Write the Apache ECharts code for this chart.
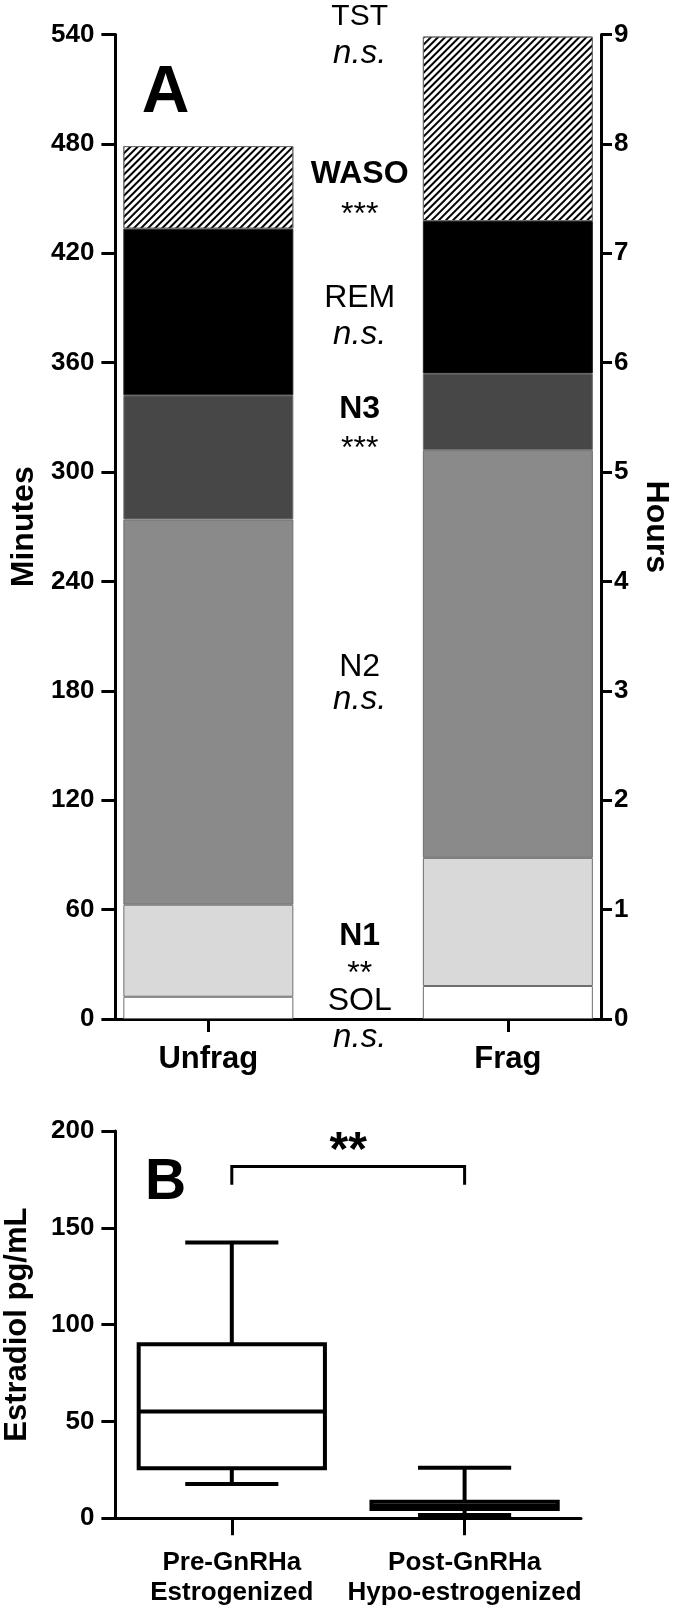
<!DOCTYPE html>
<html><head><meta charset="utf-8">
<script src="https://cdn.jsdelivr.net/npm/echarts@6/dist/echarts.min.js"></script>
<style>html,body{margin:0;padding:0;background:#fff}#c{width:687px;height:1605px}</style>
</head><body><div id="c"></div>
<script>
// ---------- Panel A data (minutes) ----------
const sleepCategories = ['Unfrag', 'Frag'];
const stageNames = ['SOL', 'N1', 'N2', 'N3', 'REM', 'WASO'];
const solMin  = [12.2, 18.1];
const n1Min   = [50.5, 70.3];
const n2Min   = [211.3, 223.6];
const n3Min   = [68.1, 42.0];
const remMin  = [91.4, 83.7];
const wasoMin = [45.3, 101.2];
const minutesAxis = { min: 0, max: 540, interval: 60 };
const hoursAxis = { min: 0, max: 9, interval: 1 };
const annotationTexts = ['TST', 'n.s.', 'WASO', '***', 'REM', 'n.s.', 'N3', '***', 'N2', 'n.s.', 'N1', '**', 'SOL', 'n.s.'];

// ---------- Panel B data (pg/mL) ----------
const estradiolCategories = ['Pre-GnRHa\nEstrogenized', 'Post-GnRHa\nHypo-estrogenized'];
// [min, Q1, median, Q3, max]
const preGnRHaBox  = [17.7, 25.8, 55.1, 89.9, 142.4];
const postGnRHaBox = [1.7, 4.8, 6.5, 8.6, 26.1];
const estradiolAxis = { min: 0, max: 200, interval: 50 };
const bracketLevel = 181.7;
const bracketFoot = 172.3;
const bracketText = '**';

// ---------- styles / layout ----------
const FONT = "'Liberation Sans', Arial, Helvetica, sans-serif";
const BLACK = '#000';
const stageColors = ['#ffffff', '#d9d9d9', '#8a8a8a', '#474747', '#000000', '#ffffff'];
const stageData = [solMin, n1Min, n2Min, n3Min, remMin, wasoMin];

const annoLayout = [
  { y: 17,   w: 'normal', s: 'normal', f: 30 },
  { y: 54,   w: 'normal', s: 'italic', f: 33 },
  { y: 174,  w: 'bold',   s: 'normal', f: 32 },
  { y: 215,  w: 'normal', s: 'normal', f: 32 },
  { y: 298,  w: 'normal', s: 'normal', f: 32 },
  { y: 335,  w: 'normal', s: 'italic', f: 33 },
  { y: 409,  w: 'bold',   s: 'normal', f: 32 },
  { y: 449,  w: 'normal', s: 'normal', f: 32 },
  { y: 667,  w: 'normal', s: 'normal', f: 32 },
  { y: 700,  w: 'normal', s: 'italic', f: 33 },
  { y: 936,  w: 'bold',   s: 'normal', f: 32 },
  { y: 974,  w: 'normal', s: 'normal', f: 32 },
  { y: 1001, w: 'normal', s: 'normal', f: 32 },
  { y: 1038, w: 'normal', s: 'italic', f: 33 }
];
const annoX = 359.7;

const axisLineStyle = { show: true, lineStyle: { color: BLACK, width: 3 } };
const tickLabel = { color: BLACK, fontSize: 26, fontWeight: 'bold', fontFamily: FONT };
const nameStyle = { color: BLACK, fontSize: 32, fontWeight: 'bold', fontFamily: FONT };

const chart = echarts.init(document.getElementById('c'), null, { renderer: 'canvas', width: 687, height: 1605 });

const barSeries = stageNames.map((name, i) => {
  const s = {
    name: name,
    type: 'bar',
    xAxisIndex: 2,
    yAxisIndex: 2,
    stack: 'sleep',
    barWidth: 170,
    data: stageData[i],
    itemStyle: { color: stageColors[i], borderColor: i === 4 ? '#222' : '#6e6e6e', borderWidth: 1 },
    silent: true
  };
  if (name === 'WASO') {
    s.itemStyle.decal = {
      symbol: 'rect', symbolSize: 1,
      dashArrayX: [1, 0], dashArrayY: [2, 3],
      rotation: -Math.PI / 4, color: '#000'
    };
  }
  return s;
});

const graphics = annotationTexts.map((t, i) => ({
  type: 'text', x: annoX, y: annoLayout[i].y, silent: true,
  style: {
    text: t, fill: BLACK,
    font: annoLayout[i].s + ' ' + annoLayout[i].w + ' ' + annoLayout[i].f + 'px ' + FONT,
    align: 'center', verticalAlign: 'middle', textAlign: 'center', textVerticalAlign: 'middle'
  }
}));
graphics.push({
  type: 'text', x: 165.6, y: 94, silent: true,
  style: { text: 'A', fill: BLACK, font: 'bold 66px ' + FONT, align: 'center', verticalAlign: 'middle', textAlign: 'center', textVerticalAlign: 'middle' }
});
graphics.push({
  type: 'text', x: 165.6, y: 1183, silent: true,
  style: { text: 'B', fill: BLACK, font: 'bold 57px ' + FONT, align: 'center', verticalAlign: 'middle', textAlign: 'center', textVerticalAlign: 'middle' }
});

const option = {
  backgroundColor: '#fff',
  animation: false,
  grid: [
    { left: 115.4, top: 34.5, width: 485.6, height: 984.5, containLabel: false, outerBoundsMode: 'none' },
    { left: 58.6, top: 34.5, width: 599, height: 984.5, containLabel: false, outerBoundsMode: 'none' },
    { left: 115.4, top: 1131, width: 465.6, height: 387.3, containLabel: false, outerBoundsMode: 'none' }
  ],
  xAxis: [
    { gridIndex: 0, type: 'category', data: sleepCategories, position: 'bottom',
      axisLine: axisLineStyle, axisTick: { show: false }, axisLabel: { show: false }, splitLine: { show: false } },
    { gridIndex: 0, type: 'category', data: sleepCategories, position: 'top',
      axisLine: axisLineStyle, axisTick: { show: false }, axisLabel: { show: false }, splitLine: { show: false } },
    { gridIndex: 1, type: 'category', data: sleepCategories, position: 'bottom',
      axisLine: { show: false },
      axisTick: { show: true, alignWithLabel: true, length: 13, lineStyle: { color: BLACK, width: 3 } },
      axisLabel: { color: BLACK, fontSize: 31, fontWeight: 'bold', fontFamily: FONT, margin: 25, interval: 0 },
      splitLine: { show: false } },
    { gridIndex: 2, type: 'category', data: estradiolCategories, position: 'bottom',
      axisLine: axisLineStyle,
      axisTick: { show: true, alignWithLabel: true, length: 17, interval: 0, lineStyle: { color: BLACK, width: 3 } },
      axisLabel: { color: BLACK, fontSize: 26, fontWeight: 'bold', fontFamily: FONT, margin: 30, lineHeight: 30, interval: 0, hideOverlap: false },
      splitLine: { show: false } }
  ],
  yAxis: [
    { gridIndex: 0, type: 'value', position: 'left', min: minutesAxis.min, max: minutesAxis.max, interval: minutesAxis.interval,
      axisLine: axisLineStyle,
      axisTick: { show: true, length: 14, lineStyle: { color: BLACK, width: 3 } },
      axisLabel: Object.assign({ margin: 21 }, tickLabel),
      splitLine: { show: false },
      name: 'Minutes', nameLocation: 'middle', nameRotate: 90, nameGap: 71, nameTextStyle: nameStyle },
    { gridIndex: 0, type: 'value', position: 'right', min: hoursAxis.min, max: hoursAxis.max, interval: hoursAxis.interval,
      axisLine: axisLineStyle,
      axisTick: { show: true, length: 11, lineStyle: { color: BLACK, width: 3 } },
      axisLabel: Object.assign({ margin: 13 }, tickLabel),
      splitLine: { show: false },
      name: 'Hours', nameLocation: 'middle', nameRotate: -90, nameGap: 28, nameTextStyle: nameStyle },
    { gridIndex: 1, type: 'value', min: minutesAxis.min, max: minutesAxis.max, show: false, splitLine: { show: false } },
    { gridIndex: 2, type: 'value', min: estradiolAxis.min, max: estradiolAxis.max, interval: estradiolAxis.interval,
      axisLine: axisLineStyle,
      axisTick: { show: true, length: 14, lineStyle: { color: BLACK, width: 3 } },
      axisLabel: Object.assign({ margin: 21 }, tickLabel),
      splitLine: { show: false },
      name: 'Estradiol pg/mL', nameLocation: 'middle', nameRotate: 90, nameGap: 82,
      nameTextStyle: Object.assign({}, nameStyle, { fontSize: 31 }) }
  ],
  series: barSeries.concat([
    {
      type: 'custom', xAxisIndex: 3, yAxisIndex: 3, silent: true,
      data: [[0].concat(preGnRHaBox), [1].concat(postGnRHaBox)],
      encode: { x: 0, y: [1, 2, 3, 4, 5] },
      renderItem: function (params, api) {
        const ci = api.value(0);
        const v = [1, 2, 3, 4, 5].map(function (k) { return api.value(k); });
        const band = api.size([1, 0])[0];
        const cx = api.coord([ci, v[2]])[0];
        const Y = function (val) { return api.coord([ci, val])[1]; };
        const bw = band * 0.8, cw = band * 0.4;
        const st = { stroke: BLACK, lineWidth: 4, fill: null };
        return {
          type: 'group', children: [
            { type: 'line', shape: { x1: cx, y1: Y(v[3]), x2: cx, y2: Y(v[4]) }, style: st },
            { type: 'line', shape: { x1: cx - cw / 2, y1: Y(v[4]), x2: cx + cw / 2, y2: Y(v[4]) }, style: st },
            { type: 'line', shape: { x1: cx, y1: Y(v[1]), x2: cx, y2: Y(v[0]) }, style: st },
            { type: 'line', shape: { x1: cx - cw / 2, y1: Y(v[0]), x2: cx + cw / 2, y2: Y(v[0]) }, style: st },
            { type: 'rect', shape: { x: cx - bw / 2, y: Y(v[3]), width: bw, height: Y(v[1]) - Y(v[3]) },
              style: { stroke: BLACK, lineWidth: 4, fill: '#fff' } },
            { type: 'line', shape: { x1: cx - bw / 2, y1: Y(v[2]), x2: cx + bw / 2, y2: Y(v[2]) }, style: st }
          ]
        };
      }
    },
    {
      type: 'custom', xAxisIndex: 3, yAxisIndex: 3, silent: true,
      data: [[0, bracketLevel, 1, bracketFoot]],
      encode: { x: [0, 2], y: [1, 3] },
      renderItem: function (params, api) {
        const p0 = api.coord([api.value(0), api.value(1)]);
        const p1 = api.coord([api.value(2), api.value(1)]);
        const foot = api.coord([api.value(0), api.value(3)])[1];
        const mid = (p0[0] + p1[0]) / 2;
        return {
          type: 'group', children: [
            { type: 'polyline', shape: { points: [[p0[0], foot], [p0[0], p0[1]], [p1[0], p1[1]], [p1[0], foot]] },
              style: { stroke: BLACK, lineWidth: 3, fill: null } },
            { type: 'text', x: mid, y: p0[1] - 15,
              style: { text: bracketText, fill: BLACK, font: 'bold 48px ' + FONT, align: 'center', verticalAlign: 'middle', textAlign: 'center', textVerticalAlign: 'middle' } }
          ]
        };
      }
    }
  ]),
  graphic: graphics
};
chart.setOption(option);
</script>
</body></html>
